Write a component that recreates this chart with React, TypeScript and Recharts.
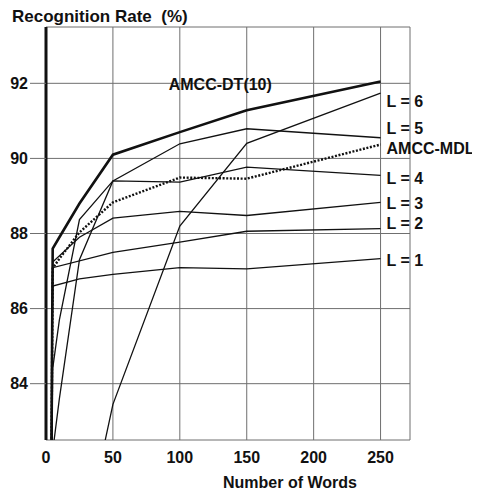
import React from "react"
import { LineChart, Line, XAxis, YAxis, CartesianGrid, LabelList } from "recharts"

// number of words used for adaptation
const words = [0, 5, 10, 25, 50, 100, 150, 250]

// recognition rate (%) per method, null = no point at that size
const amccDt = [60, 87.6, 87.9, 88.8, 90.1, 90.7, 91.28, 92.05]
const l6 = [null, null, null, 79.3, 83.45, 88.2, 90.4, 91.74]
const l5 = [60, 84.4, 85.7, 88.37, 89.4, 90.39, 90.79, 90.55]
const amccMdl = [60, 87.07, 87.33, 88.03, 88.83, 89.49, 89.46, 90.37]
const l4 = [60, 82.2, 83.6, 87.3, 89.4, 89.37, 89.77, 89.55]
const l3 = [60, 87.24, null, 87.9, 88.41, 88.59, 88.48, 88.83]
const l2 = [60, 87.09, null, null, 87.5, 87.77, 88.06, 88.13]
const l1 = [60, 86.6, null, 86.79, 86.91, 87.09, 87.06, 87.33]

const xTicks = [0, 50, 100, 150, 200, 250]
const yTicks = [84, 86, 88, 90, 92]

const seriesNames = ["AMCC-DT(10)", "L = 6", "L = 5", "AMCC-MDL", "L = 4", "L = 3", "L = 2", "L = 1"]
const seriesValues = [amccDt, l6, l5, amccMdl, l4, l3, l2, l1]

const rows = words.map((w, i) => {
  const row: Record<string, number | null> = { words: w }
  seriesValues.forEach((vals, k) => {
    row["s" + k] = vals[i]
  })
  return row
})

// where each series' name sits: index of point, offsets from it
const labelPlace = [
  { at: 6, dx: -78, dy: -26 },
  { at: 7, dx: 6, dy: 8 },
  { at: 7, dx: 6, dy: -9 },
  { at: 7, dx: 6, dy: 4 },
  { at: 7, dx: 6, dy: 3 },
  { at: 7, dx: 6, dy: 1 },
  { at: 7, dx: 6, dy: -5 },
  { at: 7, dx: 6, dy: 2 },
]

const font = "'Liberation Sans', Arial, Helvetica, sans-serif"
const ink = "#111"
const grid = "#6f6f6f"

const makeLabel = (k: number) => (props: any) => {
  const { x, y, index } = props
  const p = labelPlace[k]
  if (index !== p.at || x == null || y == null) return null
  return (
    <text
      x={x + p.dx}
      y={y + p.dy}
      dominantBaseline="central"
      fontFamily={font}
      fontWeight={700}
      fontSize={16}
      fill={ink}
    >
      {seriesNames[k]}
    </text>
  )
}

export default function App() {
  return (
    <div style={{ width: 472, height: 485 }}>
      <LineChart
        width={472}
        height={485}
        data={rows}
        margin={{ top: 19, right: 70, bottom: 0, left: 0 }}
        style={{ overflow: "visible" }}
      >
        <CartesianGrid stroke={grid} strokeWidth={1} />
        <XAxis
          dataKey="words"
          type="number"
          domain={[0, 272]}
          ticks={xTicks}
          axisLine={false}
          tickLine={false}
          tickSize={0}
          tickMargin={12}
          height={53}
          tick={{ fill: ink, fontFamily: font, fontWeight: 700, fontSize: 16 }}
          label={{
            content: (p: any) => (
              <text
                x={p.viewBox.x + p.viewBox.width / 2 + 62}
                y={p.viewBox.y + 48}
                textAnchor="middle"
                fontFamily={font}
                fontWeight={700}
                fontSize={16}
                fill={ink}
              >
                Number of Words
              </text>
            ),
          }}
        />
        <YAxis
          type="number"
          domain={[82.5, 93.5]}
          ticks={yTicks}
          allowDataOverflow
          width={38}
          axisLine={{ stroke: ink, strokeWidth: 3 }}
          tickLine={{ stroke: grid }}
          tickSize={16}
          tickMargin={2}
          tick={{ fill: ink, fontFamily: font, fontWeight: 700, fontSize: 16 }}
          label={{
            content: (p: any) => (
              <text
                x={4}
                y={p.viewBox.y - 5}
                fontFamily={font}
                fontWeight={700}
                fontSize={17}
                fill={ink}
                style={{ whiteSpace: "pre" }}
              >
                {"Recognition Rate  (%)"}
              </text>
            ),
          }}
        />
        {seriesValues.map((_, k) => (
          <Line
            key={k}
            type="linear"
            dataKey={"s" + k}
            stroke={ink}
            strokeWidth={k === 0 ? 2.6 : k === 3 ? 2.4 : 1.3}
            strokeDasharray={k === 3 ? "2 1.6" : undefined}
            dot={false}
            connectNulls
            isAnimationActive={false}
          >
            <LabelList dataKey={"s" + k} content={makeLabel(k)} />
          </Line>
        ))}
      </LineChart>
    </div>
  )
}
